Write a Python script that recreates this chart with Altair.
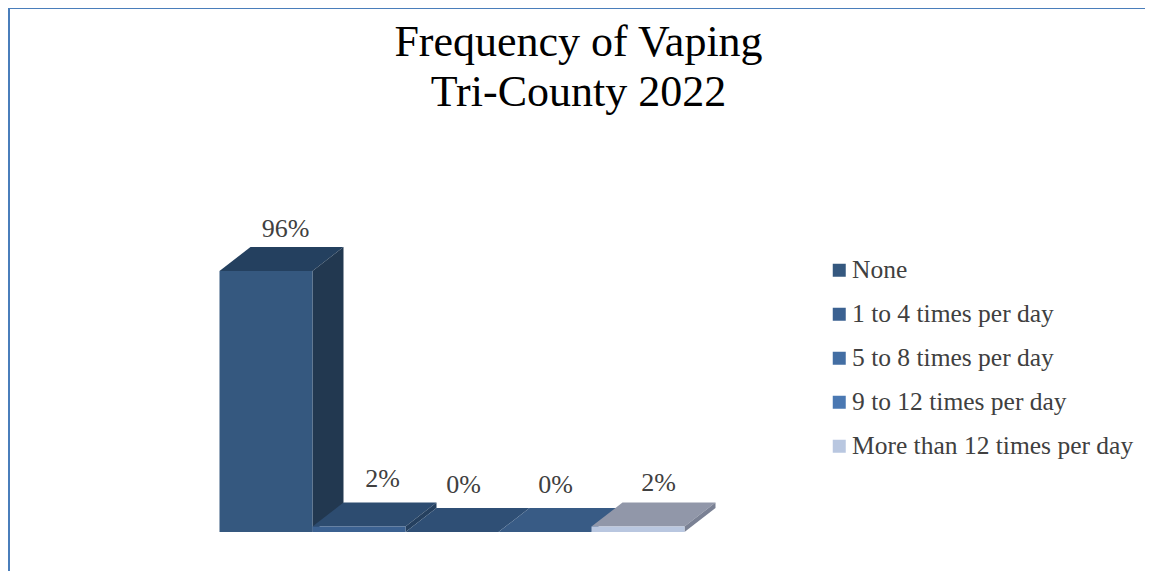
import altair as alt
import pandas as pd

categories = ["None", "1 to 4 times per day", "5 to 8 times per day",
              "9 to 12 times per day", "More than 12 times per day"]
values = [96, 2, 0, 0, 2]
labels = ["96%", "2%", "0%", "0%", "2%"]
front_colors = ["#35587f", "#3b6191", "#436ea3", "#4a78b2", "#b9c7e0"]
top_colors = ["#24405f", "#2d4c70", "#2f4f75", "#385b85", "#9197a9"]
side_colors = ["#223850", "#25405f", "#2a4768", "#32527a", "#7a8194"]
label_dx = [8, 12, 0, -1, 9]
label_dy = [-9, -15, -14, -14, -11]

W, H = 1137, 563
BASE_PX, TOP_PX = 524, 263      # pixel positions of 0 and 96
LEFT_PX, RIGHT_PX = 211.5, 676.5  # pixel positions of bar edges 0 and 5
DEPTH_X = 31 / 93               # in category widths
DEPTH_Y = 24 / ((BASE_PX - TOP_PX) / 96)  # in percentage points

X = dict(scale=alt.Scale(domain=[0, 5], range=[LEFT_PX, RIGHT_PX], nice=False, zero=False), axis=None)
Y = dict(scale=alt.Scale(domain=[0, 96], range=[BASE_PX, TOP_PX], nice=False, zero=False), axis=None, stack=None)

layers = []
for i, (cat, v) in enumerate(zip(categories, values)):
    top = pd.DataFrame({
        "x": [i, i + DEPTH_X, i + 1, i + 1 + DEPTH_X],
        "y": [v, v + DEPTH_Y, v + DEPTH_Y, v + DEPTH_Y],
        "y2": [v, v, v, v + DEPTH_Y],
    })
    side = pd.DataFrame({
        "x": [i + 1, i + 1 + DEPTH_X],
        "y": [v, v + DEPTH_Y],
        "y2": [0, DEPTH_Y],
    })
    front = pd.DataFrame({"x": [i], "x2": [i + 1], "y": [v], "y2": [0], "cat": [cat]})
    layers.append(alt.Chart(top).mark_area(orient="vertical", color=top_colors[i]).encode(
        x=alt.X("x:Q", **X), y=alt.Y("y:Q", **Y), y2="y2:Q"))
    layers.append(alt.Chart(side).mark_area(orient="vertical", color=side_colors[i]).encode(
        x=alt.X("x:Q", **X), y=alt.Y("y:Q", **Y), y2="y2:Q"))
    layers.append(alt.Chart(front).mark_bar().encode(
        x=alt.X("x:Q", **X), x2="x2:Q", y=alt.Y("y:Q", **Y), y2="y2:Q",
        color=alt.Color("cat:N", scale=alt.Scale(domain=categories, range=front_colors),
                        legend=alt.Legend(title=None, orient="none", legendX=818.5, legendY=249.5,
                                          symbolType="square", symbolSize=169, symbolStrokeWidth=0,
                                          labelFont="Liberation Serif", labelFontSize=25.5,
                                          labelColor="#404040", labelLimit=400, labelOffset=0,
                                          rowPadding=17))))

for i, (lab, v) in enumerate(zip(labels, values)):
    d = pd.DataFrame({"x": [i + 0.5 + DEPTH_X / 2], "y": [v + DEPTH_Y], "t": [lab]})
    layers.append(alt.Chart(d).mark_text(font="Liberation Serif", fontSize=26, color="#404040",
                                         align="center", baseline="middle",
                                         dx=label_dx[i] - 4, dy=label_dy[i] - 9).encode(
        x=alt.X("x:Q", **X), y=alt.Y("y:Q", **Y), text="t:N"))

border = pd.DataFrame({"a": [0]})
layers.append(alt.Chart(border).mark_rule(color="#4a7ebb", strokeWidth=2).encode(
    x=alt.value(1), y=alt.value(0), y2=alt.value(H)))
layers.append(alt.Chart(border).mark_rule(color="#4a7ebb", strokeWidth=1).encode(
    x=alt.value(0), x2=alt.value(W), y=alt.value(0.5)))

chart = alt.layer(*layers).properties(
    width=W, height=H, padding=0,
    autosize=alt.AutoSizeParams(type="none"),
    title=alt.TitleParams(text=["Frequency of Vaping", "Tri-County 2022"],
                          font="Liberation Serif", fontSize=44, fontWeight="normal",
                          color="#000000", anchor="middle", lineHeight=50,
                          dx=2, dy=108, baseline="top", offset=0),
).configure_view(stroke=None).configure(background="white")

chart.save("out.html", embed_options={"renderer": "svg", "actions": False})
